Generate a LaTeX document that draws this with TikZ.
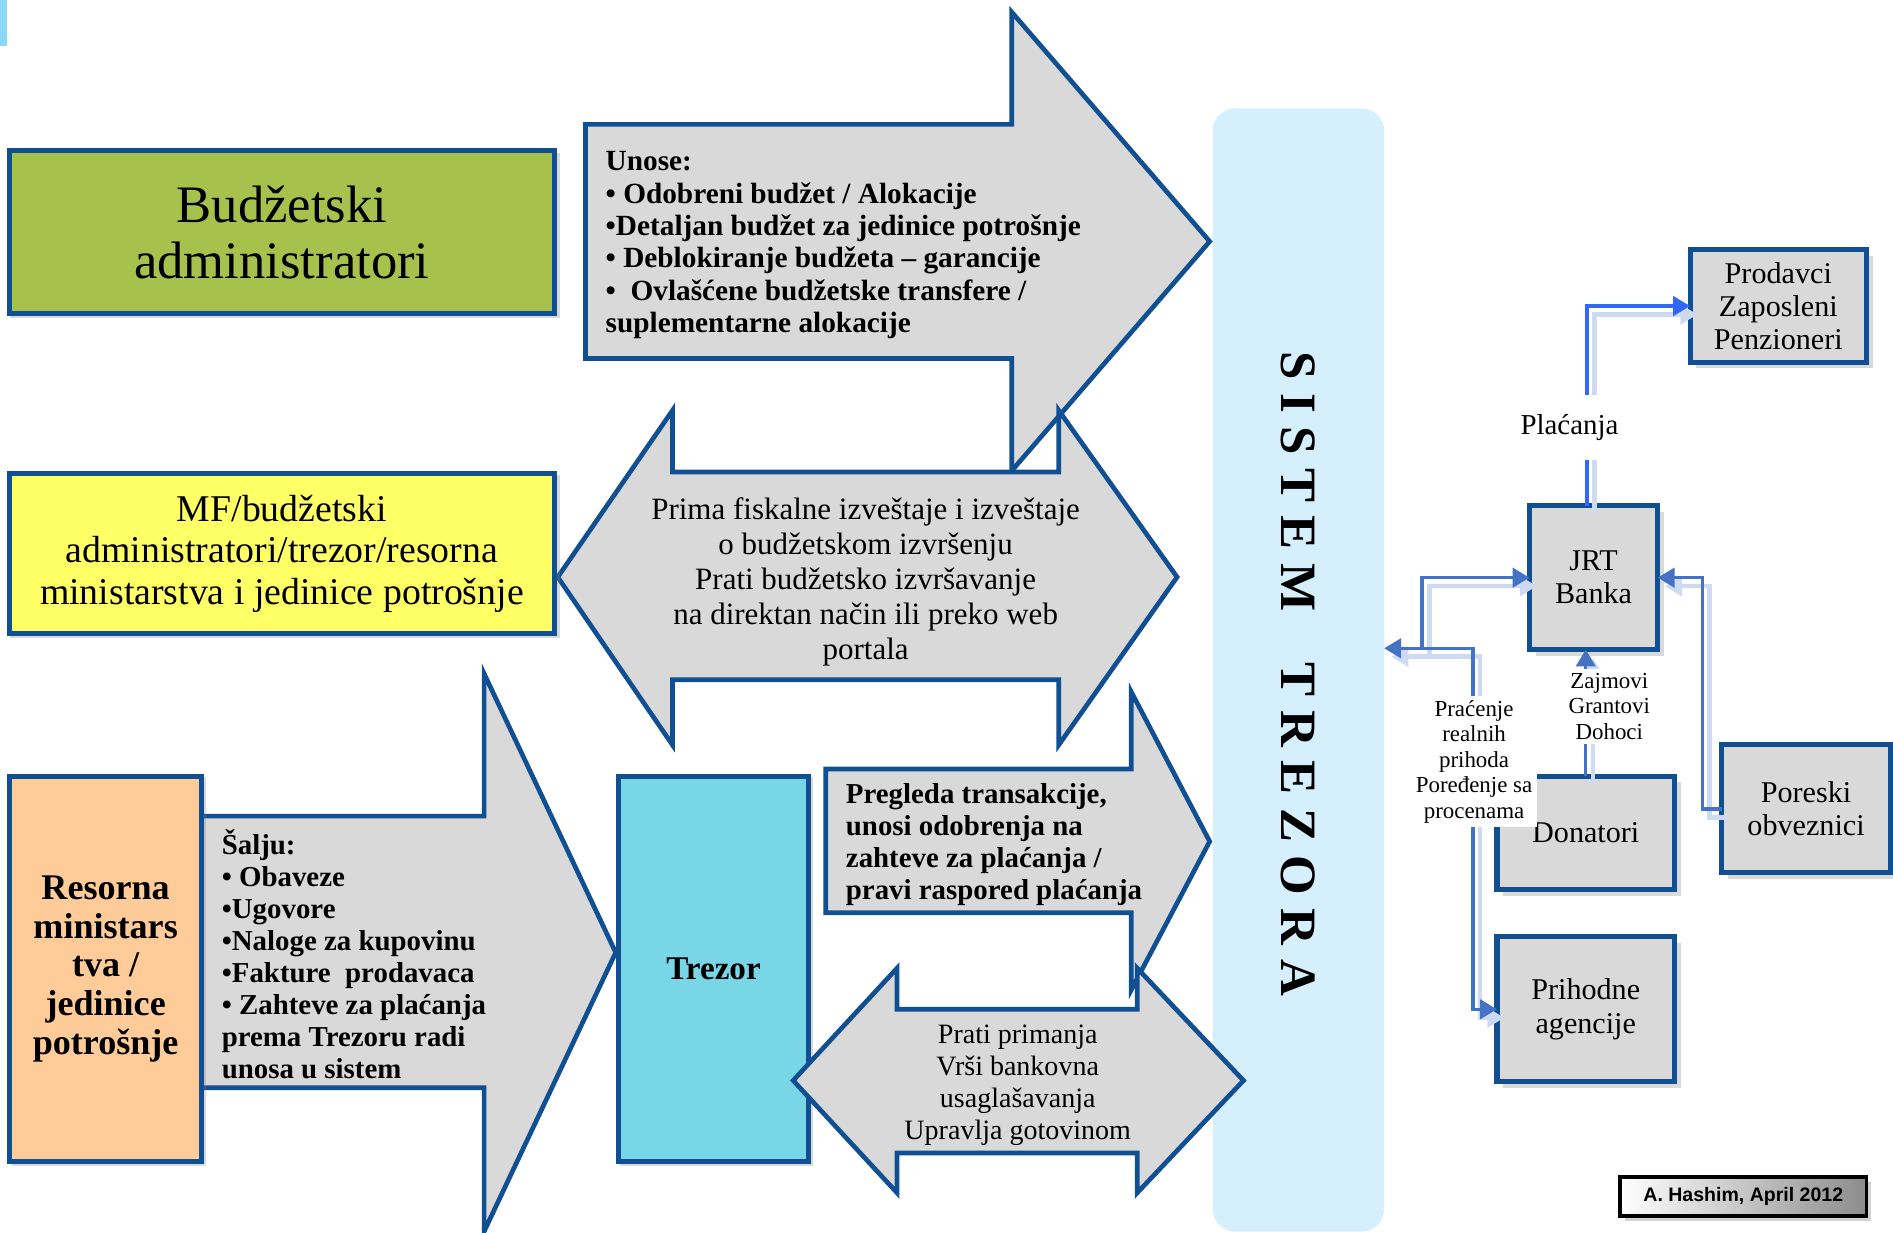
\documentclass[tikz,border=0pt]{standalone}
\usepackage{fontspec}
\setmainfont{Liberation Serif}
\setsansfont{Liberation Sans}
\usetikzlibrary{arrows.meta,shadows}

\definecolor{frameblue}{RGB}{16,80,146}
\definecolor{arrowgrey}{RGB}{217,217,217}
\definecolor{budgetgreen}{RGB}{166,194,76}
\definecolor{mfyellow}{RGB}{255,255,102}
\definecolor{ministryorange}{RGB}{255,204,153}
\definecolor{treasurycyan}{RGB}{120,214,230}
\definecolor{panelblue}{RGB}{214,239,252}
\definecolor{linkblue}{RGB}{68,114,196}
\definecolor{paylinkblue}{RGB}{51,102,255}
\definecolor{linkshade}{RGB}{205,218,242}
\definecolor{boxgrey}{RGB}{217,217,217}

\newcommand{\sizeat}[2]{\fontsize{#1}{#2}\selectfont}
\newcommand{\letgap}{\hspace{3.2pt}}

\tikzset{
  boxbase/.style={draw=frameblue, line width=1.2pt, inner sep=0pt, outer sep=0pt, align=center},
  actor/.style={boxbase, drop shadow={shadow xshift=.025cm, shadow yshift=-.025cm, shadow scale=1.01, opacity=.3}},
  party/.style={boxbase, fill=boxgrey, font=\sizeat{7.1}{7.8}, drop shadow={shadow xshift=.05cm, shadow yshift=-.05cm, opacity=.3}},
  flow/.style={draw=frameblue, line width=1.1pt, fill=arrowgrey},
  flowtext/.style={inner sep=0pt, align=left, anchor=north west, font=\bfseries\sizeat{6.8}{7.55}},
  panel/.style={fill=panelblue, rounded corners=.19cm, minimum width=1.42cm, minimum height=9.3cm, inner sep=0pt, outer sep=0pt},
  link/.style={draw=linkblue, line width=.8pt, ->, preaction={draw=linkshade, line width=1.1pt, transform canvas={xshift=.06cm, yshift=-.07cm}}},
  tag/.style={fill=white, inner sep=1pt, align=center, font=\sizeat{5.4}{6}},
}

\begin{document}
\begin{tikzpicture}[x=0.01cm, y=-0.01cm, >={Triangle[length=.14cm,width=.16cm]}]
  \useasboundingbox (0,0) rectangle (1568,1021);
  \fill[cyan!45] (0,0) rectangle (6,38);
  % Sistem trezora
  \node[panel] (sistem) at (1075.5,555) {};
  \node[rotate=-90, inner sep=0pt, font=\bfseries\sizeat{12}{14}] (sistemlbl) at (1075,558)
    {S\letgap I\letgap S\letgap T\letgap E\letgap M\hspace{12pt}T\letgap R\letgap E\letgap Z\letgap O\letgap R\letgap A};
  % Flows
  \draw[flow] (485,103) -- (838,103) -- (838,10) -- (1002,200) -- (838,390) -- (838,297) -- (485,297) -- cycle;
  \draw[flow] (462,478) -- (557,340) -- (557,391) -- (877,391) -- (877,340) -- (975,478) -- (877,617) -- (877,563) -- (557,563) -- (557,617) -- cycle;
  \draw[flow] (140,676) -- (401,676) -- (401,558) -- (510,789) -- (401,1020) -- (401,901) -- (140,901) -- cycle;
  \draw[flow] (684,637) -- (937,637) -- (937,573) -- (1002,697) -- (937,820) -- (937,756) -- (684,756) -- cycle;
  % Left actors
  \node[actor, fill=budgetgreen, minimum width=4.51cm, minimum height=1.35cm, font=\sizeat{12.4}{13.1}] (budzet) at (233.5,192.5) {Budžetski\\administratori};
  \node[actor, fill=mfyellow, minimum width=4.51cm, minimum height=1.33cm, font=\sizeat{8.9}{9.8}] (mf) at (233.5,458.5) {MF/budžetski\\administratori/trezor/resorna\\ministarstva i jedinice potrošnje};
  \node[actor, fill=ministryorange, minimum width=1.59cm, minimum height=3.19cm, font=\bfseries\sizeat{8.5}{9.1}] (resorna) at (87.5,802.5) {Resorna\\ministars\\tva /\\jedinice\\potrošnje};
  \node[actor, fill=treasurycyan, minimum width=1.58cm, minimum height=3.19cm, font=\bfseries\sizeat{7.8}{9}] (trezor) at (591,802.5) {Trezor};
  \draw[flow] (657,895) -- (743,802) -- (743,836) -- (942,836) -- (942,802) -- (1030,895) -- (942,988) -- (942,955) -- (743,955) -- (743,988) -- cycle;
  % Flow texts
  \node[flowtext, font=\bfseries\sizeat{6.9}{7.6}] (unose) at (501,125) {Unose:\\• Odobreni budžet / Alokacije\\•Detaljan budžet za jedinice potrošnje\\• Deblokiranje budžeta – garancije\\•\ \ Ovlašćene budžetske transfere /\\suplementarne alokacije};
  \node[inner sep=0pt, align=center, font=\sizeat{7.3}{8.3}] (prima) at (717,482) {Prima fiskalne izveštaje i izveštaje\\o budžetskom izvršenju\\Prati budžetsko izvršavanje\\na direktan način ili preko web\\portala};
  \node[flowtext] (salju) at (183,686) {Šalju:\\• Obaveze\\•Ugovore\\•Naloge za kupovinu\\•Fakture\ \ prodavaca\\• Zahteve za plaćanja\\prema Trezoru radi\\unosa u sistem};
  \node[flowtext] (pregleda) at (700,648) {Pregleda transakcije,\\unosi odobrenja na\\zahteve za plaćanja /\\pravi raspored plaćanja};
  \node[inner sep=0pt, align=center, font=\sizeat{6.6}{7.6}] (prati) at (843,899) {Prati primanja\\Vrši bankovna\\usaglašavanja\\Upravlja gotovinom};
  % Right side
  \node[party, minimum width=1.46cm, minimum height=.93cm] (prodavci) at (1473,253.5) {Prodavci\\Zaposleni\\Penzioneri};
  \node[party, minimum width=1.06cm, minimum height=1.19cm] (jrt) at (1320,478.5) {JRT\\Banka};
  \node[party, minimum width=1.47cm, minimum height=.94cm] (donatori) at (1313.5,690) {Donatori};
  \node[party, minimum width=1.40cm, minimum height=1.06cm] (poreski) at (1496,670) {Poreski\\obveznici};
  \node[party, minimum width=1.47cm, minimum height=1.20cm] (prihodne) at (1313.5,836) {Prihodne\\agencije};
  \draw[link, draw=paylinkblue] ([xshift=-.055cm]jrt.north) |- (prodavci.west);
  \node[tag, inner xsep=2pt, inner ysep=4.5pt, font=\sizeat{6.8}{7.6}] (placanja) at (1300,354) {Plaćanja};
  \draw[link] (donatori.north) -- (donatori.north |- jrt.south);
  \node[tag] (zajmovi) at (1333,585) {Zajmovi\\Grantovi\\Dohoci};
  \coordinate (fork) at (1178,537);
  \coordinate (bend) at (1220,537);
  \draw[link] (fork) |- (jrt.west);
  \draw[link, <->] (sistem.east |- bend) -- (bend) |- (prihodne.west);
  \draw[link] (poreski.west) -- ++(-16,0) |- (jrt.east);
  \node[tag] (pracenje) at (1221,631) {Praćenje\\realnih\\prihoda\\Poređenje sa\\procenama};
  % Credit
  \node[draw=black, line width=.9pt, inner sep=0pt, minimum width=2.04cm, minimum height=.32cm, left color=white, right color=black!45, font=\sffamily\bfseries\sizeat{4.6}{5.5}, drop shadow={shadow xshift=.04cm, shadow yshift=-.04cm, opacity=.35}] (credit) at (1444,991) {A. Hashim, April 2012};
\end{tikzpicture}
\end{document}
